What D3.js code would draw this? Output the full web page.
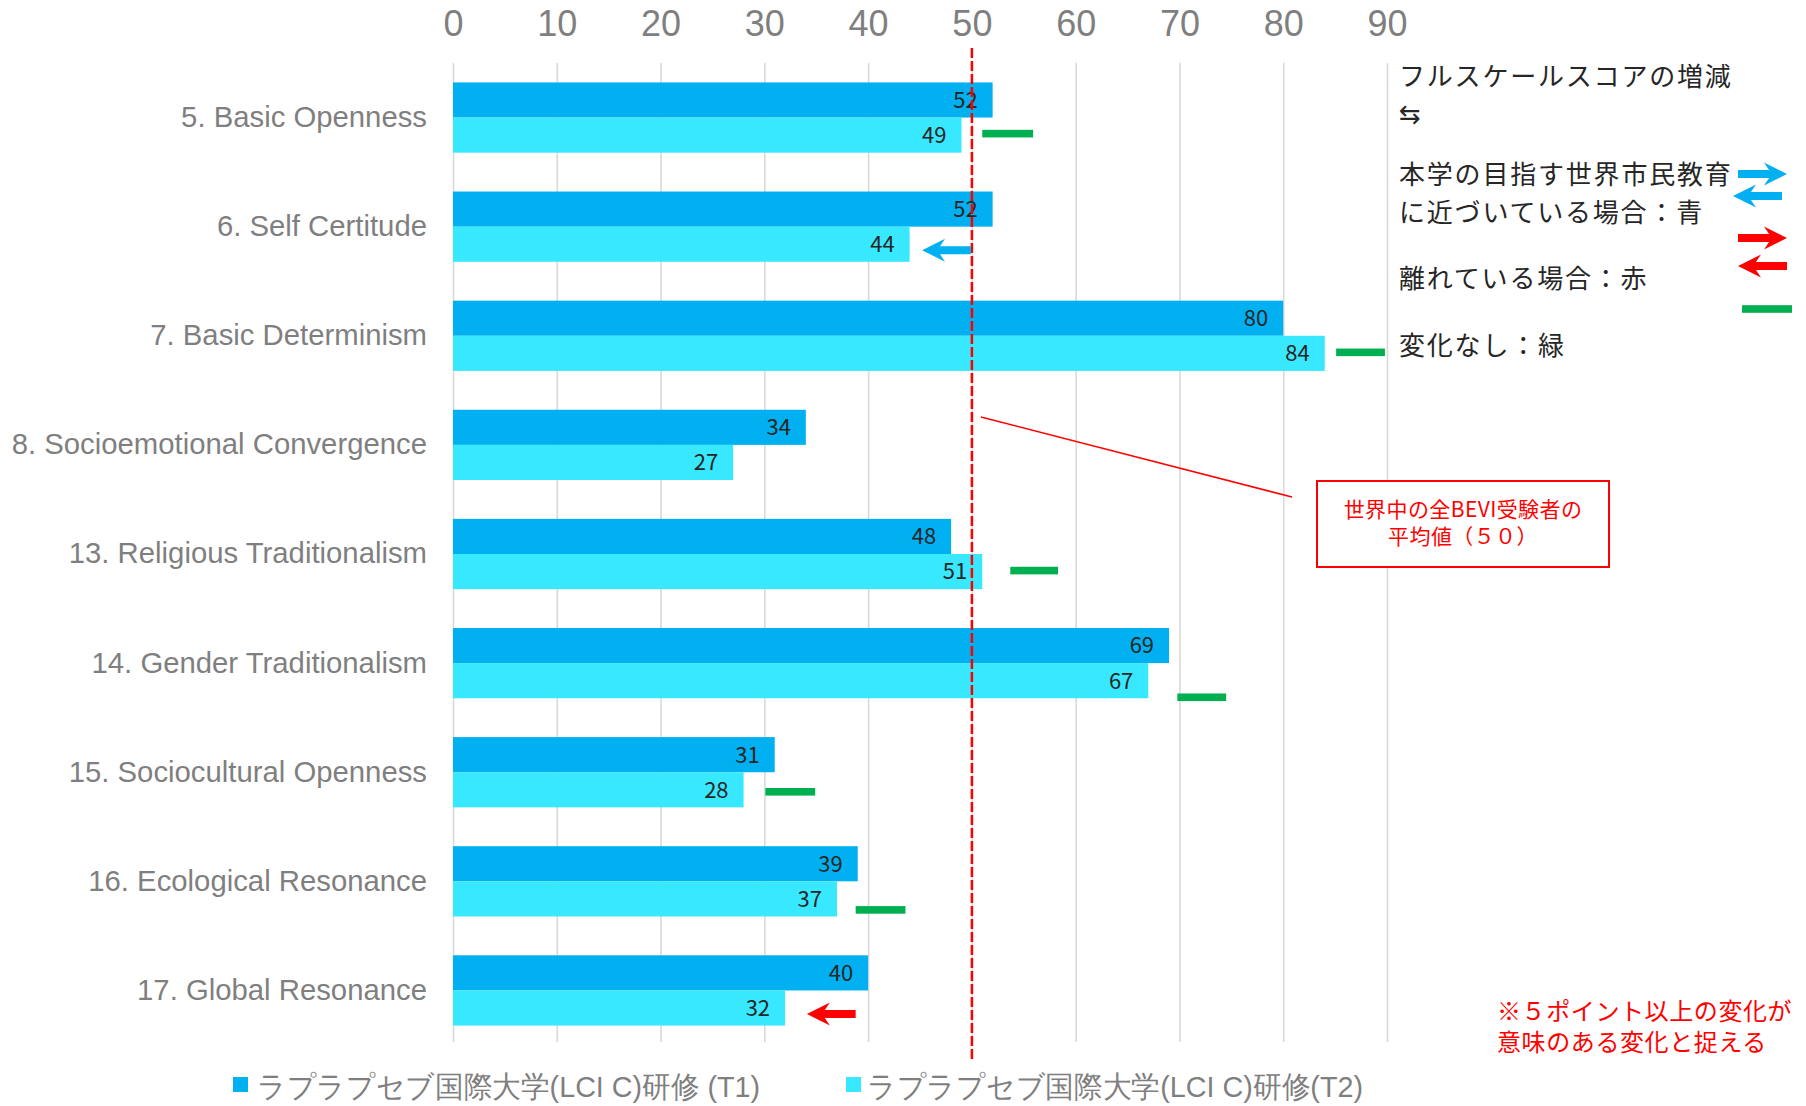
<!DOCTYPE html>
<html lang="ja">
<head>
<meta charset="utf-8">
<title>BEVI スケール比較</title>
<script src="https://cdn.jsdelivr.net/npm/d3@7"></script>
<style>
  html, body { margin: 0; padding: 0; background: #ffffff; }
  svg { display: block; }
</style>
</head>
<body>
<svg id="chart" width="1806" height="1106"></svg>
<script>
// ---- data ----
const categories = [
  "5. Basic Openness",
  "6. Self Certitude",
  "7. Basic Determinism",
  "8. Socioemotional Convergence",
  "13. Religious Traditionalism",
  "14. Gender Traditionalism",
  "15. Sociocultural Openness",
  "16. Ecological Resonance",
  "17. Global Resonance"
];
const scoresT1 = [52, 52, 80, 34, 48, 69, 31, 39, 40];
const scoresT2 = [49, 44, 84, 27, 51, 67, 28, 37, 32];
const seriesNames = ["ラプラプセブ国際大学(LCI C)研修 (T1)", "ラプラプセブ国際大学(LCI C)研修(T2)"];
const tickValues = [0, 10, 20, 30, 40, 50, 60, 70, 80, 90];
const worldMean = 50;

// change markers per scale: kind, start value, end value
const markerCategory = ["5. Basic Openness", "6. Self Certitude", "7. Basic Determinism",
  "13. Religious Traditionalism", "14. Gender Traditionalism", "15. Sociocultural Openness",
  "16. Ecological Resonance", "17. Global Resonance"];
const markerKind = ["same", "closer", "same", "same", "same", "same", "same", "away"];
const markerFrom = [51.0, 49.9, 85.1, 53.7, 69.8, 30.1, 38.8, 38.8];
const markerTo   = [55.9, 45.2, 89.8, 58.3, 74.5, 34.9, 43.6, 34.1];

// explanation lines for the marker colours
const legendLines = ["フルスケールスコアの増減", "⇆", "本学の目指す世界市民教育", "に近づいている場合：青", "離れている場合：赤", "変化なし：緑"];
const calloutLines = ["世界中の全BEVI受験者の", "平均値（５０）"];
const noteLines = ["※５ポイント以上の変化が", "意味のある変化と捉える"];

// ---- styles ----
const colT1 = "#00b0f0";
const colT2 = "#38e8ff";
const colGreen = "#00b050";
const colRed = "#ff0000";
const colBlue = "#00b0f0";
const grey = "#7f7f7f";
const ink = "#262626";
const cjk = "'Noto Sans CJK JP', 'Noto Sans', sans-serif";
const narrow = "'Liberation Sans Narrow', 'Arial Narrow', 'Liberation Sans', Arial, sans-serif";
const kindColor = { same: colGreen, closer: colBlue, away: colRed };
const markerNudge = [-1.5, 6, -1, -1, 16.6, 2, 11, 6];

const svg = d3.select("#chart");
svg.append("rect").attr("width", 1806).attr("height", 1106).attr("fill", "#fff");

const x = d3.scaleLinear().domain([0, 90]).range([453, 1387]);
const y = d3.scaleBand().domain(categories).range([63, 1045])
  .paddingInner(0.356).paddingOuter(0.178);
const bw = y.bandwidth();

// vertical gridlines
const grid = svg.append("g").attr("transform", "translate(0,63)")
  .call(d3.axisBottom(x).tickValues(tickValues).tickSize(979).tickFormat(""));
grid.select(".domain").remove();
grid.selectAll("line").attr("stroke", "#d9d9d9").attr("stroke-width", 1.6);

// top value axis labels
const topAxis = svg.append("g").attr("transform", "translate(0,36)")
  .call(d3.axisTop(x).tickValues(tickValues).tickSize(0).tickPadding(0));
topAxis.select(".domain").remove();
topAxis.selectAll("text")
  .attr("fill", grey).attr("font-family", narrow).attr("font-size", 36);

// category axis labels
const catAxis = svg.append("g").attr("transform", "translate(453,0)")
  .call(d3.axisLeft(y).tickSize(0).tickPadding(26));
catAxis.select(".domain").remove();
catAxis.selectAll("text")
  .attr("fill", grey).attr("font-family", "'Liberation Sans', Arial, sans-serif").attr("font-size", 29.3);

// bars
const rows = categories.map((c, i) => ({ c, t1: scoresT1[i], t2: scoresT2[i] }));
const barG = svg.append("g");
barG.selectAll("rect.t1").data(rows).join("rect").attr("class", "t1")
  .attr("x", x(0)).attr("y", d => y(d.c)).attr("width", d => x(d.t1) - x(0)).attr("height", bw / 2)
  .attr("fill", colT1);
barG.selectAll("rect.t2").data(rows).join("rect").attr("class", "t2")
  .attr("x", x(0)).attr("y", d => y(d.c) + bw / 2).attr("width", d => x(d.t2) - x(0)).attr("height", bw / 2)
  .attr("fill", colT2);

// value labels inside bar ends
const lab = svg.append("g").attr("font-family", cjk).attr("font-size", 22).attr("fill", ink).attr("text-anchor", "end");
lab.selectAll("text.t1").data(rows).join("text").attr("class", "t1")
  .attr("x", d => x(d.t1) - 15).attr("y", d => y(d.c) + bw / 4).attr("dy", "0.36em").text(d => d.t1);
lab.selectAll("text.t2").data(rows).join("text").attr("class", "t2")
  .attr("x", d => x(d.t2) - 15).attr("y", d => y(d.c) + bw * 3 / 4).attr("dy", "0.36em").text(d => d.t2);

// world mean reference line
svg.append("line")
  .attr("x1", x(worldMean)).attr("x2", x(worldMean)).attr("y1", 48).attr("y2", 1061)
  .attr("stroke", colRed).attr("stroke-width", 2.5).attr("stroke-dasharray", "10,3");

// arrow shape between tail and tip
function arrowPath(x1, x2, yc) {
  const d = Math.sign(x2 - x1) || 1;
  const hl = 23, hh = 11.5, sh = 4;
  const back = x2 - d * hl, notch = x2 - d * hl * 0.78;
  return `M${x1},${yc - sh}L${notch},${yc - sh}L${back},${yc - hh}L${x2},${yc}` +
         `L${back},${yc + hh}L${notch},${yc + sh}L${x1},${yc + sh}Z`;
}
function dashRect(g, x1, x2, yc, color) {
  g.append("rect").attr("x", Math.min(x1, x2)).attr("y", yc - 3.8)
    .attr("width", Math.abs(x2 - x1)).attr("height", 7.6).attr("fill", color);
}

// change markers beside the bars
const mk = svg.append("g");
markerCategory.forEach((c, i) => {
  const yc = y(c) + bw * 3 / 4 + markerNudge[i];
  const col = kindColor[markerKind[i]];
  if (markerKind[i] === "same") {
    dashRect(mk, x(markerFrom[i]), x(markerTo[i]), yc, col);
  } else {
    mk.append("path").attr("d", arrowPath(x(markerFrom[i]), x(markerTo[i]), yc)).attr("fill", col);
  }
});

// callout for the world mean
svg.append("line").attr("x1", x(worldMean) + 9).attr("y1", 417).attr("x2", 1292).attr("y2", 497)
  .attr("stroke", colRed).attr("stroke-width", 1.6);
svg.append("rect").attr("x", 1317).attr("y", 481).attr("width", 292).attr("height", 86)
  .attr("fill", "#fff").attr("stroke", colRed).attr("stroke-width", 2);
svg.append("g").attr("font-family", cjk).attr("font-size", 21).attr("letter-spacing", 0.4)
  .attr("fill", colRed).attr("text-anchor", "middle")
  .selectAll("text").data(calloutLines).join("text")
  .attr("x", 1463).attr("y", (d, i) => 509 + i * 27).attr("dy", "0.36em").text(d => d);

// explanation of marker colours
const legY = [77, 114, 175, 213, 279, 346];
svg.append("g").attr("font-family", cjk).attr("font-size", 26)
  .attr("fill", ink).attr("letter-spacing", 1.8)
  .selectAll("text").data(legendLines).join("text")
  .attr("x", 1399).attr("y", (d, i) => legY[i]).attr("dy", "0.36em")
  .attr("font-family", d => d === "⇆" ? "'DejaVu Sans', sans-serif" : cjk)
  .text(d => d);

const lk = svg.append("g");
lk.append("path").attr("d", arrowPath(1738, 1787, 174)).attr("fill", colBlue);
lk.append("path").attr("d", arrowPath(1782, 1733, 196)).attr("fill", colBlue);
lk.append("path").attr("d", arrowPath(1738, 1787, 238)).attr("fill", colRed);
lk.append("path").attr("d", arrowPath(1787, 1738, 266)).attr("fill", colRed);
dashRect(lk, 1742, 1792, 309, colGreen);

// significance note
svg.append("g").attr("font-family", cjk).attr("font-size", 24).attr("letter-spacing", 0.6).attr("fill", colRed)
  .selectAll("text").data(noteLines).join("text")
  .attr("x", 1497).attr("y", (d, i) => 1011 + i * 31.5).attr("dy", "0.36em").text(d => d);

// series legend
const legendItems = [
  { name: seriesNames[0], color: colT1, sx: 233, tx: 257, len: 503 },
  { name: seriesNames[1], color: colT2, sx: 846, tx: 867, len: 496 }
];
const lg = svg.append("g");
legendItems.forEach(it => {
  lg.append("rect").attr("x", it.sx).attr("y", 1077).attr("width", 15).attr("height", 15).attr("fill", it.color);
  lg.append("text").attr("x", it.tx).attr("y", 1086).attr("dy", "0.36em")
    .attr("font-family", narrow).attr("font-size", 30).attr("fill", grey)
    .attr("textLength", it.len).attr("lengthAdjust", "spacingAndGlyphs")
    .text(it.name);
});
</script>
</body>
</html>
